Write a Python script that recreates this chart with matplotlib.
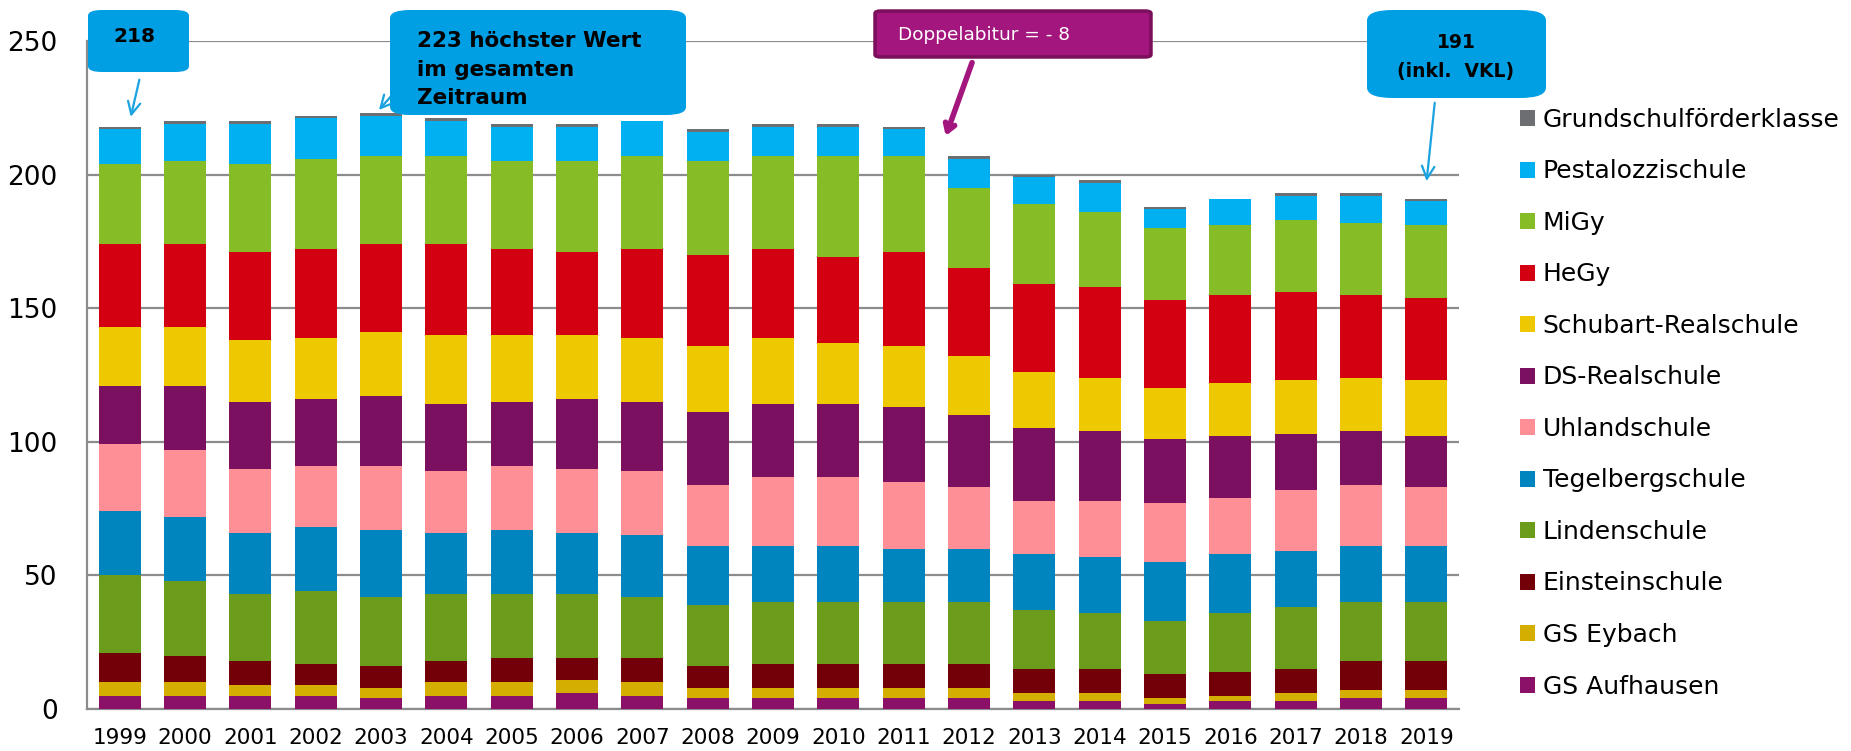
import matplotlib
matplotlib.use('Agg')
import matplotlib.pyplot as plt
import numpy as np
from matplotlib.patches import FancyBboxPatch, Patch

# ---------------- data ----------------
years = [str(y) for y in range(1999, 2020)]

gs_aufhausen   = [5, 5, 5, 5, 4, 5, 5, 6, 5, 4, 4, 4, 4, 4, 3, 3, 2, 3, 3, 4, 4]
gs_eybach      = [5, 5, 4, 4, 4, 5, 5, 5, 5, 4, 4, 4, 4, 4, 3, 3, 2, 2, 3, 3, 3]
einsteinschule = [11, 10, 9, 8, 8, 8, 9, 8, 9, 8, 9, 9, 9, 9, 9, 9, 9, 9, 9, 11, 11]
lindenschule   = [29, 28, 25, 27, 26, 25, 24, 24, 23, 23, 23, 23, 23, 23, 22, 21, 20, 22, 23, 22, 22]
tegelberg      = [24, 24, 23, 24, 25, 23, 24, 23, 23, 22, 21, 21, 20, 20, 21, 21, 22, 22, 21, 21, 21]
uhlandschule   = [25, 25, 24, 23, 24, 23, 24, 24, 24, 23, 26, 26, 25, 23, 20, 21, 22, 21, 23, 23, 22]
ds_realschule  = [22, 24, 25, 25, 26, 25, 24, 26, 26, 27, 27, 27, 28, 27, 27, 26, 24, 23, 21, 20, 19]
schubart       = [22, 22, 23, 23, 24, 26, 25, 24, 24, 25, 25, 23, 23, 22, 21, 20, 19, 20, 20, 20, 21]
hegy           = [31, 31, 33, 33, 33, 34, 32, 31, 33, 34, 33, 32, 35, 33, 33, 34, 33, 33, 33, 31, 31]
migy           = [30, 31, 33, 34, 33, 33, 33, 34, 35, 35, 35, 38, 36, 30, 30, 28, 27, 26, 27, 27, 27]
pestalozzi     = [13, 14, 15, 15, 15, 13, 13, 13, 13, 11, 11, 11, 10, 11, 10, 11, 7, 10, 9, 10, 9]
grundschulfk   = [1, 1, 1, 1, 1, 1, 1, 1, 0, 1, 1, 1, 1, 1, 1, 1, 1, 0, 1, 1, 1]

series_names = ["GS Aufhausen", "GS Eybach", "Einsteinschule", "Lindenschule",
                "Tegelbergschule", "Uhlandschule", "DS-Realschule", "Schubart-Realschule",
                "HeGy", "MiGy", "Pestalozzischule", "Grundschulförderklasse"]
series_values = [gs_aufhausen, gs_eybach, einsteinschule, lindenschule, tegelberg,
                 uhlandschule, ds_realschule, schubart, hegy, migy, pestalozzi, grundschulfk]
series_colors = ["#8B1068", "#D4AE00", "#730008", "#6C9C1C", "#0085BE", "#FF8F96",
                 "#7B1060", "#EEC800", "#D20010", "#86BC25", "#00B0F0", "#6D6E71"]

yticks = [0, 50, 100, 150, 200, 250]

# ---------------- figure ----------------
W, H = 1851, 751
fig = plt.figure(figsize=(W / 100, H / 100), dpi=100)
ax = fig.add_axes([87 / W, 1 - 709 / H, (1459 - 87) / W, (709 - 41) / H])

x = np.arange(len(years))
bottom = np.zeros(len(years))
for name, vals, col in zip(series_names, series_values, series_colors):
    v = np.array(vals, dtype=float)
    ax.bar(x, v, bottom=bottom, width=0.64, color=col, label=name, zorder=3)
    bottom += v

ax.set_xlim(-0.5, len(years) - 0.5)
ax.set_ylim(0, 250)
ax.set_yticks(yticks)
ax.set_yticklabels([str(t) for t in yticks])
ax.set_xticks(x)
ax.set_xticklabels(years)
ax.tick_params(axis='y', length=0, pad=21, labelsize=19)
ax.tick_params(axis='x', length=0, pad=14, labelsize=15.5)
ax.yaxis.grid(True, color='#8C8C8C', lw=1.6, zorder=0)
ax.set_axisbelow(True)
for s in ['top', 'right']:
    ax.spines[s].set_visible(False)
for s in ['left', 'bottom']:
    ax.spines[s].set_color('#8C8C8C')
    ax.spines[s].set_linewidth(1.6)

# legend (top entry first)
handles = [Patch(facecolor=c, edgecolor='none') for c in series_colors[::-1]]
fig.legend(handles, series_names[::-1], loc='upper left',
           bbox_to_anchor=(1520 / W, 1 - 108 / H), frameon=False, fontsize=18,
           handlelength=0.6, handleheight=0.6, handletextpad=0.3,
           labelspacing=1.1, borderpad=0, borderaxespad=0)


# ---------------- callouts ----------------
def fx(px):
    return px / W


def fy(py):
    return 1 - py / H


def box(x0, y0, x1, y1, fc, ec=None, lw=0, r=15):
    p = FancyBboxPatch((fx(x0), fy(y1)), fx(x1) - fx(x0), fy(y0) - fy(y1),
                       boxstyle=f"round,pad=0,rounding_size={r / W}",
                       transform=fig.transFigure, facecolor=fc,
                       edgecolor=ec if ec else 'none', linewidth=lw, zorder=5)
    fig.add_artist(p)


blue_box = "#009FE3"
blue_arrow = "#1AA3E0"
purple = "#A3167E"

# 218 box
box(88, 10, 189, 72, blue_box, r=14)
fig.text(fx(134), fy(37), "218", ha='center', va='center', fontsize=14.5,
         fontweight='bold', color='black', zorder=6)
ax.annotate("", xy=(0.16, 220.6), xycoords='data',
            xytext=(140, H - 77), textcoords='figure pixels',
            arrowprops=dict(arrowstyle='->,head_length=0.9,head_width=0.45',
                            color=blue_arrow, lw=1.6), zorder=6)

# 223 box
box(390, 10, 686, 115, blue_box, r=20)
fig.text(fx(417), fy(69.5), "223 höchster Wert\nim gesamten\nZeitraum", ha='left',
         va='center', fontsize=15.5, fontweight='bold', color='black',
         linespacing=1.55, zorder=6)
ax.annotate("", xy=(3.94, 223.4), xycoords='data',
            xytext=(393, H - 94), textcoords='figure pixels',
            arrowprops=dict(arrowstyle='->,head_length=0.9,head_width=0.45',
                            color=blue_arrow, lw=1.6), zorder=6)

# Doppelabitur box
box(875, 11, 1151, 57, purple, ec="#7A0F5C", lw=2.5, r=6)
fig.text(fx(898), fy(35), "Doppelabitur = - 8", ha='left', va='center',
         fontsize=13.3, color='white', zorder=6)
ax.annotate("", xy=(12.63, 213.5), xycoords='data',
            xytext=(973, H - 60), textcoords='figure pixels',
            arrowprops=dict(arrowstyle='->,head_length=0.55,head_width=0.35',
                            color=purple, lw=4), zorder=6)

# 191 box
box(1367, 10, 1546, 98, blue_box, r=26)
fig.text(fx(1456), fy(43), "191", ha='center', va='center', fontsize=13.5,
         fontweight='bold', color='black', zorder=6)
fig.text(fx(1456), fy(72), "(inkl.  VKL)", ha='center', va='center', fontsize=13.5,
         fontweight='bold', color='black', zorder=6)
ax.annotate("", xy=(20.0, 196.5), xycoords='data',
            xytext=(1435, H - 100), textcoords='figure pixels',
            arrowprops=dict(arrowstyle='->,head_length=0.9,head_width=0.45',
                            color=blue_arrow, lw=1.6), zorder=6)

fig.savefig("out.png", dpi=100)
